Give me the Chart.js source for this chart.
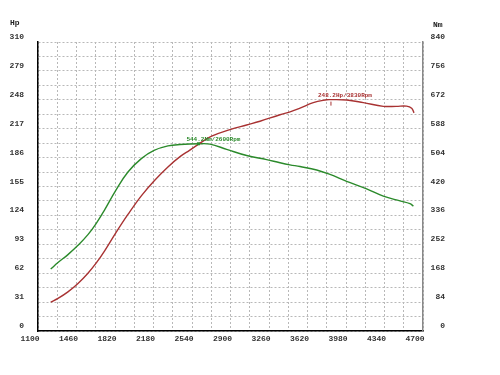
<!DOCTYPE html>
<html>
<head>
<meta charset="utf-8">
<script src="https://cdn.jsdelivr.net/npm/chart.js@4.4.0/dist/chart.umd.min.js"></script>
<style>
  body { margin: 0; background: #fff; }
</style>
</head>
<body>
<canvas id="dyno" width="500" height="375"></canvas>
<script>
// rpm sample points
var hpRpm = [1219, 1287, 1380, 1474, 1567, 1645, 1723, 1826, 1941, 2066, 2185, 2315, 2428, 2520, 2608, 2724, 2895, 3051, 3176, 3363, 3457, 3550, 3674, 3799, 3830, 3986, 4142, 4329, 4450, 4547, 4594, 4616];
var hpVals = [31, 35, 42, 51, 62, 73, 86, 105, 125, 145, 161, 176, 187, 194, 201, 209, 216, 221, 225, 232, 235, 239, 245, 248, 248.2, 247.8, 245, 241, 241, 241.2, 239, 234];

var nmRpm = [1219, 1287, 1380, 1474, 1567, 1645, 1723, 1826, 1941, 2066, 2185, 2315, 2428, 2608, 2708, 2864, 3051, 3238, 3363, 3456, 3550, 3706, 3830, 3986, 4173, 4329, 4485, 4578, 4610];
var nmVals = [180, 199, 222, 249, 280, 313, 352, 408, 462, 501, 525, 538, 542, 544.2, 543, 528, 510, 498, 489, 483, 478, 468, 455, 435, 413, 392, 378, 370, 363];

// axis ticks
var rpmTicks = [1100, 1460, 1820, 2180, 2540, 2900, 3260, 3620, 3980, 4340, 4700];
var hpTicks = [0, 31, 62, 93, 124, 155, 186, 217, 248, 279, 310];
var nmTicks = [0, 84, 168, 252, 336, 420, 504, 588, 672, 756, 840];

// peak labels
var peaks = [
  { axis: 'yNm', rpm: 2600, val: 544.2, text: '544.2Nm/2600Rpm', color: '#2b8a2b' },
  { axis: 'yHp', rpm: 3830, val: 248.2, text: '248.2Hp/3830Rpm', color: '#a83232' }
];

function toXY(xs, ys) {
  return xs.map(function (x, i) { return { x: x, y: ys[i] }; });
}

// main ticks plus a grid line halfway between them
function withHalves(list) {
  var out = [];
  for (var i = 0; i < list.length; i++) {
    out.push({ value: list[i], major: true });
    if (i < list.length - 1) out.push({ value: (list[i] + list[i + 1]) / 2, major: false });
  }
  return out;
}

var tickFont = { family: 'Liberation Mono', size: 8, weight: 'bold' };

var textPlugin = {
  id: 'dynoText',
  afterDraw: function (chart) {
    var c = chart.ctx;
    var xs = chart.scales.x;
    c.save();
    c.fillStyle = '#222';
    c.font = 'bold 8px "Liberation Mono"';
    c.textBaseline = 'alphabetic';
    c.fillText('Hp', 10, 25);
    c.fillText('Nm', 433, 27);

    c.font = 'bold 6px "Liberation Mono"';
    peaks.forEach(function (p) {
      var px = xs.getPixelForValue(p.rpm);
      var py = chart.scales[p.axis].getPixelForValue(p.val);
      c.fillStyle = p.color;
      c.strokeStyle = p.color;
      c.fillText(p.text, px - 12, py - 3);
      if (p.axis === 'yNm') {
        c.fillRect(px - 1.5, py - 1.5, 3, 3);
      } else {
        c.lineWidth = 1;
        c.beginPath();
        c.moveTo(px + 1, py + 2);
        c.lineTo(px + 1, py + 6);
        c.stroke();
      }
    });
    c.restore();
  }
};

new Chart(document.getElementById('dyno').getContext('2d'), {
  type: 'line',
  data: {
    datasets: [{
      label: 'Hp',
      data: toXY(hpRpm, hpVals),
      yAxisID: 'yHp',
      borderColor: '#a83232',
      borderWidth: 1.4,
      pointRadius: 0,
      tension: 0.4
    }, {
      label: 'Nm',
      data: toXY(nmRpm, nmVals),
      yAxisID: 'yNm',
      borderColor: '#2b8a2b',
      borderWidth: 1.4,
      pointRadius: 0,
      tension: 0.4
    }]
  },
  options: {
    responsive: false,
    animation: false,
    layout: { padding: { top: 42, left: 0, right: 55, bottom: 0 } },
    plugins: { legend: { display: false }, tooltip: { enabled: false } },
    scales: {
      x: {
        type: 'linear',
        min: 1100,
        max: 4700,
        afterBuildTicks: function (s) { s.ticks = withHalves(rpmTicks); },
        afterFit: function (s) { s.height = 44; },
        ticks: {
          autoSkip: false,
          maxRotation: 0,
          labelOffset: -8,
          padding: 3,
          color: '#333',
          font: tickFont,
          callback: function (v, i, t) { return t[i].major ? v : ''; }
        },
        grid: { color: '#b8b8b8', drawTicks: false },
        border: { color: '#000', width: 1.5, dash: [2, 2] }
      },
      yHp: {
        position: 'left',
        min: 0,
        max: 310,
        afterBuildTicks: function (s) { s.ticks = withHalves(hpTicks); },
        afterFit: function (s) { s.width = 38; },
        ticks: {
          autoSkip: false,
          padding: 14,
          labelOffset: -5,
          color: '#333',
          font: tickFont,
          callback: function (v, i, t) { return t[i].major ? v : ''; }
        },
        grid: { color: '#b8b8b8', drawTicks: false },
        border: { color: '#000', width: 1.5, dash: [2, 2] }
      },
      yNm: {
        position: 'right',
        min: 0,
        max: 840,
        afterBuildTicks: function (s) { s.ticks = nmTicks.map(function (v) { return { value: v }; }); },
        afterFit: function (s) { s.width = 22; },
        ticks: {
          autoSkip: false,
          padding: 0,
          labelOffset: -5,
          crossAlign: 'far',
          color: '#333',
          font: tickFont
        },
        grid: { display: false },
        border: { color: '#888', width: 1.5 }
      }
    }
  },
  plugins: [textPlugin]
});
</script>
</body>
</html>
